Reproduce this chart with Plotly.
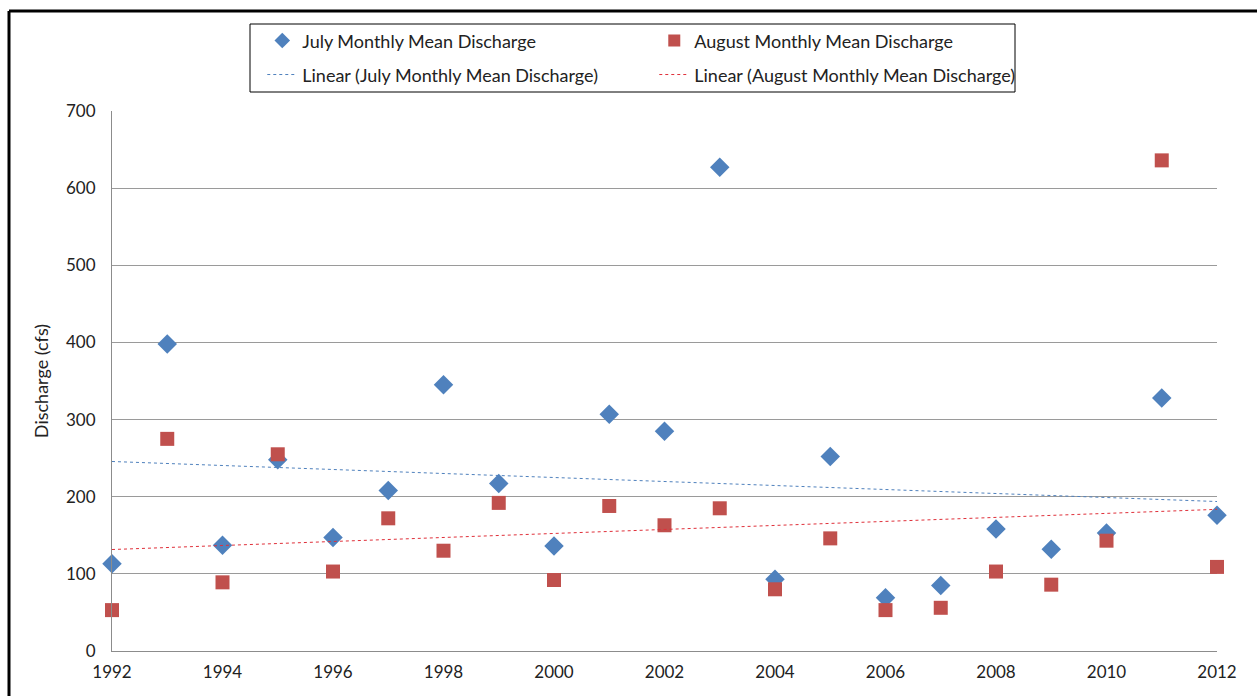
import numpy as np
import plotly.graph_objects as go

# Monthly mean discharge (cfs) by year
years = list(range(1992, 2013))
july_discharge = [113, 398, 137, 248, 147, 208, 345, 217, 136, 307, 285,
                  627, 93, 252, 69, 85, 158, 132, 153, 328, 176]
august_discharge = [53, 275, 89, 255, 103, 172, 130, 192, 92, 188, 163,
                    185, 80, 146, 53, 56, 103, 86, 143, 636, 109]

x_ticks = list(range(1992, 2013, 2))
y_ticks = list(range(0, 701, 100))

BLUE = "#4F81BD"
RED = "#C0504D"
FONT = "Lato"


def linear_fit(xs, ys):
    slope, intercept = np.polyfit(xs, ys, 1)
    ends = [xs[0], xs[-1]]
    return ends, [slope * e + intercept for e in ends]


fig = go.Figure()

fig.add_trace(go.Scatter(
    x=years, y=july_discharge, mode="markers", cliponaxis=False,
    name="July Monthly Mean Discharge",
    marker=dict(symbol="diamond", size=15, color=BLUE),
    legend="legend",
))
fig.add_trace(go.Scatter(
    x=years, y=august_discharge, mode="markers", cliponaxis=False,
    name="August Monthly Mean Discharge",
    marker=dict(symbol="square", size=14, color=RED),
    legend="legend",
))

jx, jy = linear_fit(years, july_discharge)
ax, ay = linear_fit(years, august_discharge)
fig.add_trace(go.Scatter(
    x=jx, y=jy, mode="lines",
    name="Linear (July Monthly Mean Discharge)",
    line=dict(color=BLUE, width=1, dash="dot"),
    legend="legend2",
))
fig.add_trace(go.Scatter(
    x=ax, y=ay, mode="lines",
    name="Linear (August Monthly Mean Discharge)",
    line=dict(color="#E0303A", width=1, dash="dot"),
    legend="legend2",
))

legend_common = dict(
    orientation="h", xanchor="left", yanchor="middle",
    x=0.136, entrywidth=347, bgcolor="rgba(0,0,0,0)", borderwidth=0,
    font=dict(family=FONT, size=18, color="#222"),
)

# outer chart frame position in pixels
frame_left_px = 9
frame_top_px = 11

fig.update_layout(
    width=1257, height=696,
    margin=dict(l=112, r=40, t=111, b=45),
    paper_bgcolor="white", plot_bgcolor="white",
    font=dict(family=FONT, size=17, color="#222"),
    showlegend=True,
    legend=dict(y=1.13, itemsizing="constant", **legend_common),
    legend2=dict(y=1.067, itemsizing="trace", **legend_common),
    xaxis=dict(
        range=[1992, 2012], tickvals=x_ticks, ticktext=[str(t) for t in x_ticks],
        showgrid=False, zeroline=False, showline=True, linecolor="#8c8c8c",
        linewidth=1, ticks="", ticklabelstandoff=6,
        tickfont=dict(family=FONT, size=17),
    ),
    yaxis=dict(
        range=[0, 700], tickvals=y_ticks, showgrid=True, gridcolor="#9a9a9a",
        gridwidth=1, zeroline=False, showline=True, linecolor="#8c8c8c",
        linewidth=1, ticks="", ticklabelstandoff=12,
        tickfont=dict(family=FONT, size=17),
        title=dict(text="Discharge (cfs)", font=dict(family=FONT, size=18),
                   standoff=12),
    ),
    shapes=[
        # outer chart frame: top and left edges
        dict(type="line", xref="paper", yref="paper",
             x0=(frame_left_px - 112) / 1105, x1=(1257 - 112) / 1105,
             y0=(651 - frame_top_px) / 540, y1=(651 - frame_top_px) / 540,
             line=dict(color="black", width=3), layer="below"),
        dict(type="line", xref="paper", yref="paper",
             x0=(frame_left_px - 112) / 1105, x1=(frame_left_px - 112) / 1105,
             y0=(651 - 696) / 540, y1=(651 - frame_top_px) / 540,
             line=dict(color="black", width=3), layer="below"),
        # legend box
        dict(type="rect", xref="paper", yref="paper",
             x0=(250 - 112) / 1105, x1=(1015 - 112) / 1105,
             y0=(651 - 92) / 540, y1=(651 - 24) / 540,
             line=dict(color="black", width=1), layer="below"),
    ],
)

fig.write_html("out.html")
